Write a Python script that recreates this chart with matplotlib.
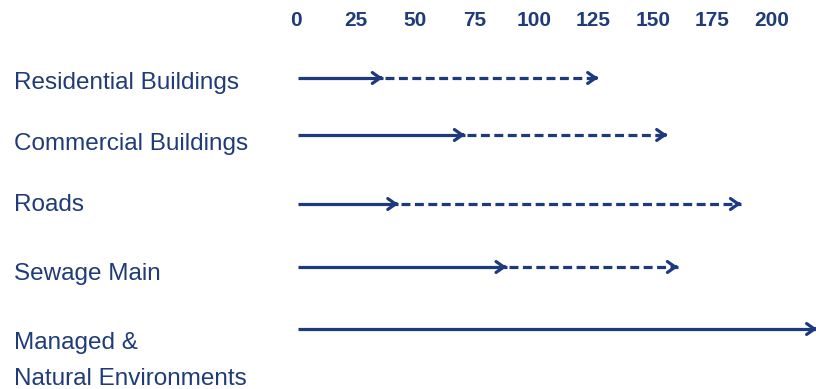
import matplotlib
matplotlib.use("Agg")
import matplotlib.pyplot as plt
from matplotlib.transforms import blended_transform_factory

# ---- data ----
categories = ["Residential Buildings", "Commercial Buildings", "Roads",
              "Sewage Main", "Managed &\nNatural Environments"]
start_vals = [1, 1, 1, 1, 1]
solid_end = [36.5, 71, 43, 88.5, 219]
dashed_end = [127, 156, 187, 160.5, None]
tick_vals = [0, 25, 50, 75, 100, 125, 150, 175, 200]

# ---- layout / style ----
W, H = 816, 389
row_y = [78, 135, 204, 267, 329]          # pixel rows of arrows
label_base = [89, 150, 211, 280, 385]     # pixel baselines of labels (last line)
navy = "#1e3a7e"
txt = "#1f3b78"
font = "Liberation Sans"

fig = plt.figure(figsize=(W / 100, H / 100), dpi=100)
x0 = 296
ax = fig.add_axes([x0 / W, 0, (W - x0) / W, (H - 33) / H])
ax.set_xlim(0, 218.5)
ax.set_ylim(H, 33)
for s in ax.spines.values():
    s.set_visible(False)
ax.set_yticks([])
ax.xaxis.tick_top()
ax.set_xticks(tick_vals)
ax.set_xticklabels([str(t) for t in tick_vals], fontfamily=font,
                   fontweight="bold", fontsize=15, color=txt)
ax.tick_params(axis="x", length=0, pad=2)

lw = 2.3
head = "->,head_length=0.4,head_width=0.28"
for i, cat in enumerate(categories):
    y = row_y[i]
    ax.plot([start_vals[i], solid_end[i]], [y, y], color=navy, lw=lw,
            solid_capstyle="butt", clip_on=False)
    ax.annotate("", xy=(solid_end[i], y), xytext=(solid_end[i] - 1, y),
                arrowprops=dict(arrowstyle=head, color=navy, lw=lw,
                                mutation_scale=14, shrinkA=0, shrinkB=0),
                annotation_clip=False)
    if dashed_end[i] is not None:
        ax.plot([solid_end[i] + 1, dashed_end[i]], [y, y], color=navy, lw=lw,
                dashes=(2.8, 1.4), dash_capstyle="butt")
        ax.annotate("", xy=(dashed_end[i], y), xytext=(dashed_end[i] - 1, y),
                    arrowprops=dict(arrowstyle=head, color=navy, lw=lw,
                                    mutation_scale=14, shrinkA=0, shrinkB=0),
                    annotation_clip=False)

trans = blended_transform_factory(fig.transFigure, ax.transData)
for i, cat in enumerate(categories):
    ax.text(14 / W, label_base[i], cat, transform=trans, ha="left",
            va="baseline", fontfamily=font, fontsize=17.5, color=txt,
            linespacing=1.82, clip_on=False)

fig.savefig("out.png", dpi=100, facecolor="white")
